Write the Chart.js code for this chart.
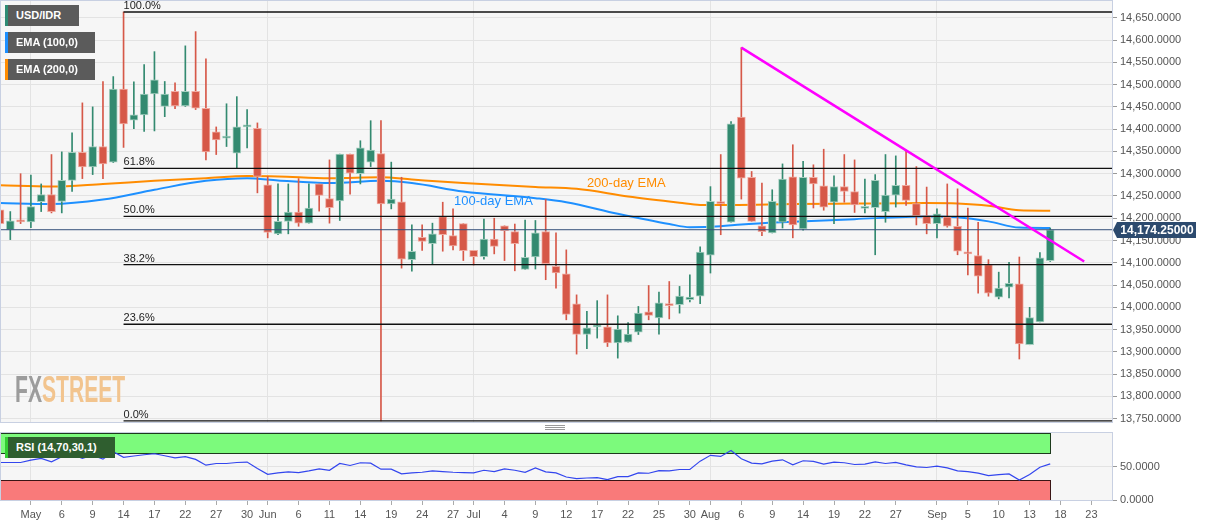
<!DOCTYPE html>
<html>
<head>
<meta charset="utf-8">
<script src="https://cdn.jsdelivr.net/npm/chart.js@4.4.1/dist/chart.umd.min.js"></script>
<style>
body{margin:0;background:#fff;width:1207px;height:526px;overflow:hidden;position:relative;font-family:"Liberation Sans",Arial,sans-serif;}
canvas{position:absolute;left:0;}
#main{top:0;}
#rsi{top:424px;}
.tag{position:absolute;left:5px;height:21px;line-height:21px;color:#fff;font-weight:bold;font-size:11px;background:#5b5b5b;padding-left:8px;box-sizing:border-box;border-left:3px solid;}
#wm{position:absolute;left:15px;top:371px;font-family:"Liberation Sans Narrow","Liberation Sans",sans-serif;font-weight:bold;font-size:37px;line-height:37px;transform:scaleX(0.57);transform-origin:0 0;white-space:nowrap;}
#grip{position:absolute;left:545px;top:425px;width:20px;height:1px;border-top:1px solid #999;border-bottom:1px solid #999;}
#grip2{position:absolute;left:545px;top:429px;width:20px;height:0;border-top:1px solid #999;}
</style>
</head>
<body>
<canvas id="main" width="1207" height="424"></canvas>
<canvas id="rsi" width="1207" height="102"></canvas>
<div class="tag" style="top:5px;width:74px;border-color:#2e8b74">USD/IDR</div>
<div class="tag" style="top:32px;width:90px;border-color:#1e90ff">EMA (100,0)</div>
<div class="tag" style="top:59px;width:90px;border-color:#ff8c00">EMA (200,0)</div>
<div class="tag" style="top:437px;width:110px;background:#2f5e2f;border-color:#33cc33">RSI (14,70,30,1)</div>
<div id="wm"><span style="color:#9c9c9c">FX</span><span style="color:#f2c48e">STREET</span></div>
<div id="grip"></div><div id="grip2"></div>
<script>
// daily candles, Apr 26 .. Sep 17 (index = trading day)
var open  = [14219,14174,14196,14192,14237,14253,14238,14285,14348,14315,14361,14326,14490,14420,14432,14479,14451,14485,14452,14485,14447,14394,14380,14346,14405,14402,
  14275,14165,14193,14214,14189,14277,14244,14239,14344,14300,14326,14345,14232,14237,14107,14157,14143,14204,14161,14188,
  14128,14114,14153,14183,14170,14085,14113,14170,14092,14075,14008,13939,13956,13956,13920,13922,13944,13990,13976,14008,14006,14017,14025,
  14117,14236,14191,14427,14292,14183,14167,14191,14293,14176,14292,14273,14236,14271,14260,14222,14224,14215,14252,14274,14233,14206,
  14188,14203,14182,14124,14116,14096,14023,14045,14053,13916,13967,14105];
var high  = [14309,14215,14300,14297,14277,14343,14349,14392,14459,14450,14507,14518,14663,14506,14545,14574,14507,14504,14587,14619,14558,14405,14457,14473,14444,14414,
  14294,14277,14277,14289,14277,14277,14331,14344,14344,14374,14419,14419,14326,14292,14185,14185,14189,14236,14221,14188,
  14128,14198,14200,14183,14187,14196,14195,14242,14167,14129,14028,13991,14015,14028,13981,13966,14002,14049,14034,14058,14047,14073,14136,
  14271,14343,14417,14583,14305,14279,14264,14322,14365,14328,14320,14355,14295,14343,14331,14288,14298,14343,14340,14350,14316,14270,
  14221,14277,14266,14223,14191,14107,14079,14101,14113,14000,14123,14178];
var low   = [14161,14152,14188,14179,14215,14212,14212,14260,14289,14298,14289,14325,14359,14401,14395,14396,14428,14446,14451,14444,14331,14343,14361,14313,14358,14257,
  14156,14163,14165,14182,14189,14216,14189,14195,14254,14277,14316,13745,14221,14088,14081,14128,14098,14126,14129,14105,
  14095,14108,14120,14105,14082,14085,14086,14062,14043,13972,13895,13907,13931,13912,13886,13922,13939,13972,13940,13974,13987,14012,14008,
  14077,14163,14191,14243,14193,14161,14167,14178,14156,14173,14223,14218,14188,14236,14213,14212,14118,14191,14225,14229,14185,14165,
  14156,14180,14118,14073,14032,14025,14019,14021,13884,13916,13967,14103];
var close = [14188,14194,14192,14226,14253,14215,14285,14348,14315,14361,14322,14490,14412,14432,14479,14511,14479,14452,14485,14447,14349,14376,14382,14405,14408,14294,
  14168,14193,14214,14189,14223,14251,14224,14344,14301,14358,14353,14232,14243,14108,14126,14148,14165,14163,14138,14127,
  14114,14153,14137,14172,14143,14112,14167,14098,14077,13984,13939,13954,13961,13920,13951,13940,13987,13982,14010,14004,14025,14023,14124,
  14238,14233,14412,14290,14193,14170,14238,14288,14185,14292,14277,14225,14271,14260,14230,14226,14285,14252,14274,14240,14206,14188,
  14210,14182,14126,14120,14070,14032,14043,14054,13918,13977,14111,14174.25];

var rsi = [56,56,56,59.6,62,57,64.6,68,62,67,61,72,63.6,65.7,67.5,69,66,63,64.6,60.6,52,54.5,54.5,56,56.6,47,
  38.4,40.4,42,41,43.4,46.5,44.4,54.5,51.5,55.6,55,46,46,39,40.4,41.4,43.4,42.4,41.4,41,
  40.4,44.4,42.4,46.5,44.4,41.4,48,42,40.4,34.3,31.8,32.8,33.5,30.3,34.8,34.8,40.4,39.9,43.9,43.4,45.5,45.5,58,
  66.7,65,74,61.6,55,54,58,60,52.5,58.6,57.6,53.5,56.6,55.6,53,53.5,57,54.5,56,52.5,49.5,48.5,
  50.5,48,43.4,42.4,40,36.4,37.9,38.9,29.8,37.9,49,54];

var ema200Idx = [0,5,10,15,20,24,27,32,37,40,45,52,56,61,66,68,71,77,83,90,93,96,99,102];
var ema200    = [14274,14271,14277,14284,14290,14295,14294,14290,14292,14287,14279,14270,14266,14249,14235,14230,14230,14232,14233,14234,14233,14228,14218,14217];
var ema100Idx = [0,5,10,15,20,24,27,32,37,40,45,52,55,60,65,67,70,72,77,83,90,93,96,99,102];
var ema100    = [14234,14232,14242,14264,14284,14290,14285,14279,14284,14279,14260,14245,14236,14210,14187,14180,14182,14186,14192,14198,14204,14202,14193,14179,14178];

var trendIdx = [72, 105.3];
var trendVal = [14583, 14103];

var fibNames = ['100.0%','61.8%','50.0%','38.2%','23.6%','0.0%'];
var fibVals  = [14663,14312,14204,14096,13962,13745];
var fibStart = 12;

var tickIdx  = [3,6,9,12,15,18,21,24,26,29,32,35,38,41,44,46,49,52,55,58,61,64,67,69,72,75,78,81,84,87,91,94,97,100,103,106];
var tickText = ['May','6','9','14','17','22','27','30','Jun','6','11','14','19','24','27','Jul','4','9','12','17','22','25','30','Aug','6','9','14','19','22','27','Sep','5','10','13','18','23'];
var monthIdx = [3,26,46,69,91];
var priceTicks = [13750,13800,13850,13900,13950,14000,14050,14100,14150,14200,14250,14300,14350,14400,14450,14500,14550,14600,14650];
var rsiTicks = [0,50];

var X_MIN = 0, X_MAX = 108;
var GREEN = '#338a70', RED = '#d65848';
var GRID = '#e3e3e3', AXIS = '#c8d0e2';

Chart.defaults.font.family = '"Liberation Sans", Arial, sans-serif';
Chart.defaults.font.size = 11;
Chart.defaults.color = '#555';

var idx = close.map(function(c, i){ return i; });
var up = close.map(function(c, i){ return c >= open[i]; });

function fixY(s){ s.width = 95; s.paddingTop = 0; s.paddingBottom = 0; }

var panelBg = {
    id: 'panelBg',
    beforeDraw: function(chart){
        var a = chart.chartArea, ctx = chart.ctx;
        ctx.save();
        ctx.fillStyle = '#f6f6f6';
        ctx.fillRect(a.left, a.top, a.right - a.left, a.bottom - a.top);
        ctx.restore();
    },
    afterDraw: function(chart){
        var a = chart.chartArea, ctx = chart.ctx;
        ctx.save();
        ctx.strokeStyle = AXIS;
        ctx.lineWidth = 1;
        ctx.strokeRect(a.left + 0.5, a.top - 0.5, a.right - a.left, a.bottom - a.top + 1);
        ctx.restore();
    }
};

var mainExtras = {
    id: 'mainExtras',
    afterDatasetsDraw: function(chart){
        var ctx = chart.ctx, xs = chart.scales.x, ys = chart.scales.y;
        ctx.save();
        ctx.font = '11px "Liberation Sans", Arial, sans-serif';
        ctx.fillStyle = '#222';
        ctx.textBaseline = 'alphabetic';
        fibVals.forEach(function(v, k){
            ctx.fillText(fibNames[k], xs.getPixelForValue(fibStart), ys.getPixelForValue(v) - 3);
        });
        ctx.font = '13px "Liberation Sans", Arial, sans-serif';
        ctx.textBaseline = 'middle';
        ctx.fillStyle = '#ff8c00';
        ctx.fillText('200-day EMA', xs.getPixelForValue(57), ys.getPixelForValue(14278));
        ctx.fillStyle = '#1e90ff';
        ctx.fillText('100-day EMA', xs.getPixelForValue(44.1), ys.getPixelForValue(14237));
        ctx.restore();
    },
    afterDraw: function(chart){
        var ctx = chart.ctx, ys = chart.scales.y, a = chart.chartArea;
        var last = close[close.length - 1];
        var y = Math.round(ys.getPixelForValue(last));
        ctx.save();
        ctx.fillStyle = '#2c4a6e';
        ctx.beginPath();
        ctx.moveTo(a.right + 1, y);
        ctx.lineTo(a.right + 5, y - 8);
        ctx.lineTo(a.right + 84, y - 8);
        ctx.lineTo(a.right + 84, y + 8);
        ctx.lineTo(a.right + 5, y + 8);
        ctx.closePath();
        ctx.fill();
        ctx.fillStyle = '#fff';
        ctx.font = 'bold 12px "Liberation Sans", Arial, sans-serif';
        ctx.textBaseline = 'middle';
        ctx.textAlign = 'center';
        ctx.fillText(last.toLocaleString('en-US', {minimumFractionDigits: 5}), a.right + 45, y + 1);
        ctx.restore();
    }
};

var lineDs = function(pts, color, width, order){
    return { type: 'line', data: pts, borderColor: color, borderWidth: width, pointRadius: 0,
             cubicInterpolationMode: 'monotone', order: order, fill: false };
};

var datasets = [
    lineDs(ema200Idx.map(function(x, k){ return {x: x, y: ema200[k]}; }), '#ff8c00', 2, 7),
    lineDs(ema100Idx.map(function(x, k){ return {x: x, y: ema100[k]}; }), '#1e90ff', 2, 7),
    {
        type: 'bar', order: 6, grouped: false, barThickness: 1,
        data: idx.map(function(i){ return {x: i, y: [low[i], high[i]]}; }),
        backgroundColor: up.map(function(u){ return u ? GREEN : RED; })
    },
    {
        type: 'bar', order: 5, grouped: false, barThickness: 8, minBarLength: 2,
        borderWidth: 1, borderSkipped: false,
        data: idx.map(function(i){ return {x: i, y: [open[i], close[i]]}; }),
        backgroundColor: up.map(function(u){ return u ? GREEN : RED; }),
        borderColor: up.map(function(u){ return u ? '#a6cfc0' : '#f0aaa0'; })
    },
    lineDs([{x: X_MIN, y: close[close.length - 1]}, {x: X_MAX, y: close[close.length - 1]}], '#34507a', 1, 2),
    lineDs(trendIdx.map(function(x, k){ return {x: x, y: trendVal[k]}; }), '#ff00ff', 2.5, 1)
];
fibVals.forEach(function(v){
    datasets.push(lineDs([{x: fibStart, y: v}, {x: X_MAX, y: v}], '#111', 1.3, 3));
});

new Chart(document.getElementById('main'), {
    type: 'bar',
    data: { datasets: datasets },
    options: {
        responsive: false, animation: false, devicePixelRatio: 1,
        layout: { padding: { top: 1, left: 0, right: 0, bottom: 2 } },
        plugins: { legend: { display: false }, tooltip: { enabled: false } },
        scales: {
            x: {
                type: 'linear', min: X_MIN, max: X_MAX, offset: false,
                afterBuildTicks: function(s){ s.ticks = monthIdx.map(function(v){ return {value: v}; }); },
                afterFit: function(s){ s.height = 0; s.paddingLeft = 0; s.paddingRight = 0; },
                ticks: { display: false },
                grid: { color: GRID, drawTicks: false, offset: false },
                border: { display: false }
            },
            y: {
                type: 'linear', position: 'right', min: 13742.6, max: 14687.7,
                afterBuildTicks: function(s){ s.ticks = priceTicks.map(function(v){ return {value: v}; }); },
                afterFit: fixY,
                ticks: { padding: 3, callback: function(v){ return v.toLocaleString('en-US', {minimumFractionDigits: 4}); } },
                grid: { color: GRID, tickLength: 5, tickColor: '#999' },
                border: { color: AXIS }
            }
        }
    },
    plugins: [panelBg, mainExtras]
});

var rsiBands = {
    id: 'rsiBands',
    beforeDatasetsDraw: function(chart){
        var ctx = chart.ctx, xs = chart.scales.x, ys = chart.scales.y;
        var x0 = Math.round(xs.getPixelForValue(X_MIN)), x1 = Math.round(xs.getPixelForValue(idx.length - 1));
        ctx.save();
        ctx.lineWidth = 1;
        [[70, 100, '#7cfa7c', '#1c3a1c'], [0, 30, '#f97a7a', '#3a1515']].forEach(function(b){
            var yt = Math.round(ys.getPixelForValue(b[1])), yb = Math.round(ys.getPixelForValue(b[0]));
            ctx.fillStyle = b[2];
            ctx.fillRect(x0, yt, x1 - x0, yb - yt);
            ctx.strokeStyle = b[3];
            ctx.strokeRect(x0 + 0.5, yt + 0.5, x1 - x0, yb - yt);
        });
        ctx.restore();
    }
};

new Chart(document.getElementById('rsi'), {
    type: 'line',
    data: { datasets: [{
        data: idx.map(function(i){ return {x: i, y: rsi[i]}; }),
        borderColor: '#3346ee', borderWidth: 1.2, pointRadius: 0, tension: 0, fill: false
    }] },
    options: {
        responsive: false, animation: false, devicePixelRatio: 1,
        layout: { padding: { top: 9, left: 0, right: 0, bottom: 0 } },
        plugins: { legend: { display: false }, tooltip: { enabled: false } },
        scales: {
            x: {
                type: 'linear', min: X_MIN, max: X_MAX, offset: false,
                afterBuildTicks: function(s){ s.ticks = tickIdx.map(function(v){ return {value: v}; }); },
                afterFit: function(s){ s.height = 26; s.paddingLeft = 0; s.paddingRight = 0; },
                ticks: { autoSkip: false, maxRotation: 0, padding: 3,
                         callback: function(v){ var k = tickIdx.indexOf(v); return k < 0 ? '' : tickText[k]; } },
                grid: { color: function(c){ return c.tick && monthIdx.indexOf(c.tick.value) >= 0 ? GRID : 'rgba(0,0,0,0)'; },
                        tickColor: '#aaa', tickLength: 5 },
                border: { color: AXIS }
            },
            y: {
                type: 'linear', position: 'right', min: 0, max: 100,
                afterBuildTicks: function(s){ s.ticks = rsiTicks.map(function(v){ return {value: v}; }); },
                afterFit: fixY,
                ticks: { padding: 3, callback: function(v){ return v.toFixed(4); } },
                grid: { color: function(c){ return c.tick && c.tick.value === 50 ? GRID : 'rgba(0,0,0,0)'; },
                        tickLength: 5, tickColor: '#999' },
                border: { color: AXIS }
            }
        }
    },
    plugins: [panelBg, rsiBands]
});
</script>
</body>
</html>
